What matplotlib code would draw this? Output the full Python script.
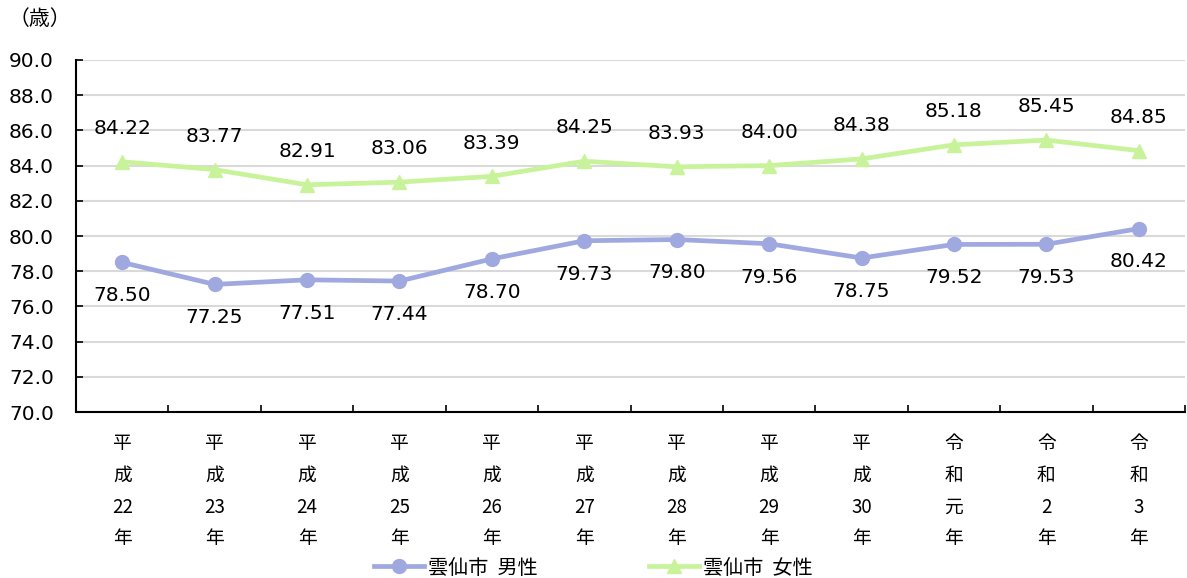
import matplotlib.pyplot as plt
import numpy as np

plt.rcParams['font.family'] = ['Noto Sans CJK JP', 'DejaVu Sans']

years = ['平\n成\n22\n年', '平\n成\n23\n年', '平\n成\n24\n年', '平\n成\n25\n年',
         '平\n成\n26\n年', '平\n成\n27\n年', '平\n成\n28\n年', '平\n成\n29\n年',
         '平\n成\n30\n年', '令\n和\n元\n年', '令\n和\n2\n年', '令\n和\n3\n年']
male = [78.50, 77.25, 77.51, 77.44, 78.70, 79.73, 79.80, 79.56, 78.75, 79.52, 79.53, 80.42]
female = [84.22, 83.77, 82.91, 83.06, 83.39, 84.25, 83.93, 84.00, 84.38, 85.18, 85.45, 84.85]

male_color = '#9fa9e0'
female_color = '#c9f39a'
num_font = ['DejaVu Sans']

fig = plt.figure(figsize=(11.87, 5.78), dpi=100)
ax = fig.add_axes([76 / 1187, 1 - 412 / 578, (1185 - 76) / 1187, (412 - 60) / 578])

x = np.arange(len(years))
ax.plot(x, male, color=male_color, lw=3.4, marker='o', ms=10, label='雲仙市  男性', zorder=3)
ax.plot(x, female, color=female_color, lw=3.4, marker='^', ms=10, label='雲仙市  女性', zorder=3)

for xi, v in zip(x, male):
    ax.annotate(f'{v:.2f}', (xi, v), xytext=(0, -24), textcoords='offset points',
                ha='center', va='center', fontsize=14.5, family=num_font)
for xi, v in zip(x, female):
    ax.annotate(f'{v:.2f}', (xi, v), xytext=(0, 24), textcoords='offset points',
                ha='center', va='center', fontsize=14.5, family=num_font)

ax.set_xlim(-0.5, len(years) - 0.5)
ax.set_ylim(70, 90)
ax.set_yticks(np.arange(70, 90.1, 2))
ax.set_yticklabels([f'{t:.1f}' for t in np.arange(70, 90.1, 2)], fontsize=14.5, family=num_font)
ax.yaxis.grid(True, color='#d9d9d9', lw=1.5)
ax.set_axisbelow(True)

ax.set_xticks(x)
ax.set_xticklabels(years, fontsize=13.5, linespacing=1.68, va='top')
ax.set_xticks(np.arange(0.5, len(years) - 0.4, 1), minor=True)
ax.tick_params(axis='x', which='major', length=0, pad=15)
ax.tick_params(axis='x', which='minor', direction='in', length=5, width=1.2)
ax.tick_params(axis='y', direction='in', length=5, width=1.2, pad=16)

for side in ['top', 'right']:
    ax.spines[side].set_visible(False)
for side in ['left', 'bottom']:
    ax.spines[side].set_linewidth(1.5)

fig.text(9 / 1187, 1 - 19 / 578, '（歳）', fontsize=15, va='center', ha='left')

fig.legend(loc='center', bbox_to_anchor=(0.5, 1 - 568 / 578), ncol=2, frameon=False,
           fontsize=14.5, columnspacing=5.5, handlelength=2.5, handletextpad=0.2)

fig.savefig('out.png', dpi=100)
